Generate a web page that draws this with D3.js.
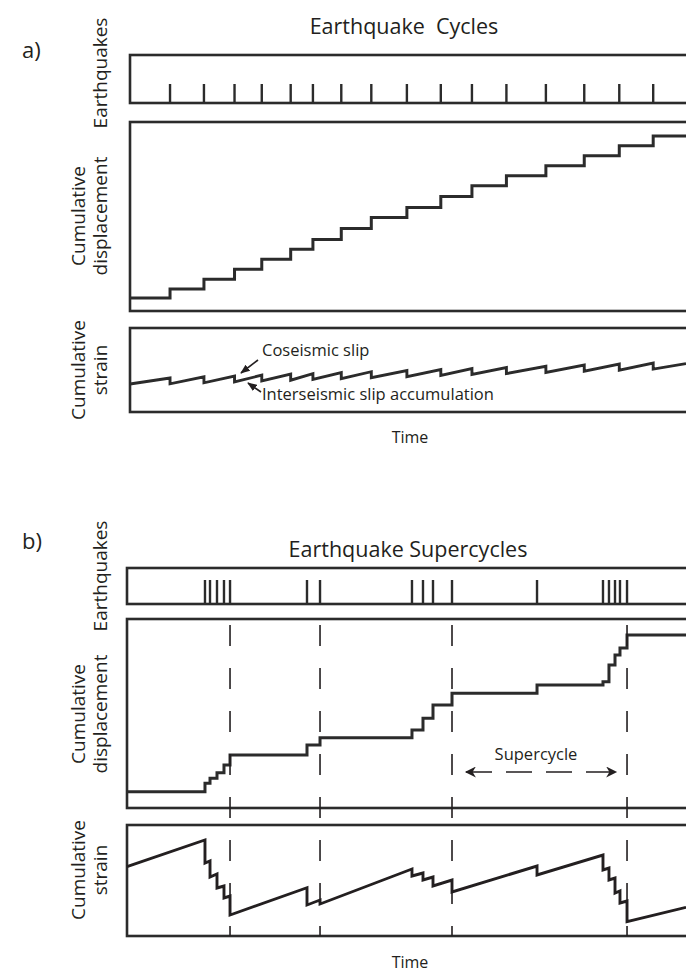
<!DOCTYPE html>
<html>
<head>
<meta charset="utf-8">
<script src="https://cdn.jsdelivr.net/npm/d3@7"></script>
<style>
  html, body { margin: 0; padding: 0; background: #fff; }
  svg { display: block; }
  text { font-family: "Open Sans", "Noto Sans", sans-serif; fill: #231f20; white-space: pre; }
</style>
</head>
<body>
<svg id="chart" width="686" height="975"></svg>
<script>
// ---- a) regular earthquake cycles (time in arbitrary units, 0-100) ----
const quakeTimesA = [7.2, 13.3, 18.8, 23.7, 28.9, 32.9, 38.0, 43.4, 49.8, 55.9, 61.5, 67.7, 74.8, 81.7, 88.0, 94.1];
// cumulative displacement: initial level, then level after each earthquake
const displacementA = [1.3, 2.2, 3.2, 4.2, 5.2, 6.2, 7.2, 8.3, 9.4, 10.4, 11.5, 12.6, 13.6, 14.6, 15.6, 16.6, 17.6];
// cumulative strain: start, value just before each quake, just after, end
const strainStartA = 28;
const strainBeforeA = [34.0, 35.2, 36.0, 36.8, 37.8, 38.4, 39.4, 40.3, 41.5, 42.5, 43.4, 44.5, 45.8, 46.9, 47.9, 48.9];
const strainAfterA  = [28.2, 29.2, 30.1, 31.0, 31.8, 32.6, 33.4, 34.3, 35.4, 36.5, 37.5, 38.4, 39.6, 40.8, 41.9, 42.9];
const strainEndA = 48.4;

// ---- b) earthquake supercycles ----
const quakeTimesB = [13.95, 14.85, 16.1, 17.35, 18.43, 32.2, 34.53, 50.98, 52.95, 54.74, 58.14, 73.35, 85.15, 86.22, 87.3, 88.19, 89.45];
const displacementB = [1.64, 2.48, 2.98, 3.55, 4.32, 5.33, 6.33, 7.07, 7.84, 9.01, 10.35, 11.53, 12.36, 12.69, 14.37, 15.38, 16.08, 17.39];
const strainStartB = 69.3;
const strainBeforeB = [96, 75, 62, 50, 40, 48.3, 36, 67, 63, 59, 56, 70, 81, 68, 58, 45, 35];
const strainAfterB  = [73, 59, 48, 38, 21, 31, 32, 60, 56, 50, 44, 61, 66, 56, 43, 33, 14.3];
const strainEndB = 28.7;
// supercycle boundaries (last event of each cluster)
const supercycleBounds = [18.43, 34.53, 58.14, 89.45];

// ---- text ----
const titleA = "Earthquake  Cycles";
const titleB = "Earthquake Supercycles";
const panelTags = ["a)", "b)"];
const rowLabels = [["Earthquakes"], ["Cumulative", "displacement"], ["Cumulative", "strain"]];
const timeLabel = "Time";
const coseismicLabel = "Coseismic slip";
const interseismicLabel = "Interseismic slip accumulation";
const supercycleLabel = "Supercycle";

const INK = "#2b2b2b";
const svg = d3.select("#chart");

const defs = svg.append("defs");
defs.append("marker").attr("id", "arrowSmall")
  .attr("viewBox", "0 0 10 10").attr("refX", 9).attr("refY", 5)
  .attr("markerWidth", 6).attr("markerHeight", 6).attr("orient", "auto")
  .append("path").attr("d", "M0,1 L10,5 L0,9 Z").attr("fill", "#231f20");
defs.append("marker").attr("id", "arrowBig")
  .attr("viewBox", "0 0 10 10").attr("refX", 9).attr("refY", 5)
  .attr("markerWidth", 12).attr("markerHeight", 11).attr("orient", "auto-start-reverse")
  .attr("markerUnits", "userSpaceOnUse")
  .append("path").attr("d", "M0,0 L10,5 L0,10 L3,5 Z").attr("fill", "#231f20");

function drawFigure(cfg) {
  const g = svg.append("g");
  const x = d3.scaleLinear().domain([0, 100]).range([cfg.left, 686]);
  const right = 700;

  // panel tag and title
  g.append("text").attr("x", 22).attr("y", cfg.tagY).attr("font-size", 22).text(cfg.tag);
  g.append("text").attr("x", cfg.titleX).attr("y", cfg.titleY).attr("text-anchor", "middle")
    .attr("font-size", 21.5).text(cfg.title);

  // frames
  const frames = [cfg.eq, cfg.disp, cfg.strain];
  frames.forEach((f, i) => {
    g.append("rect").attr("x", cfg.left).attr("y", f[0])
      .attr("width", right - cfg.left).attr("height", f[1] - f[0])
      .attr("fill", "none").attr("stroke", INK).attr("stroke-width", 2.6);
    const cy = cfg.labelY[i];
    const lines = rowLabels[i];
    const t = g.append("text").attr("transform", `translate(0,${cy}) rotate(-90)`)
      .attr("text-anchor", "middle").attr("font-size", 19);
    lines.forEach((s, k) => {
      t.append("tspan").attr("x", 0)
        .attr("y", lines.length === 1 ? 107 : (k === 0 ? 85 : 107)).text(s);
    });
  });

  // earthquake events
  g.append("g").selectAll("line").data(cfg.quakes).join("line")
    .attr("x1", d => x(d)).attr("x2", d => x(d))
    .attr("y1", cfg.eq[1] - cfg.tickLen).attr("y2", cfg.eq[1])
    .attr("stroke", INK).attr("stroke-width", 2.4);

  // cumulative displacement staircase
  const yD = d3.scaleLinear().domain([0, 19]).range([cfg.disp[1], cfg.disp[0]]);
  const stepPts = [[0, cfg.displacement[0]]]
    .concat(cfg.quakes.map((q, i) => [q, cfg.displacement[i + 1]]))
    .concat([[100, cfg.displacement[cfg.displacement.length - 1]]]);
  g.append("path").datum(stepPts)
    .attr("d", d3.line().x(d => x(d[0])).y(d => yD(d[1])).curve(d3.curveStepAfter))
    .attr("fill", "none").attr("stroke", INK).attr("stroke-width", 3);

  // cumulative strain sawtooth
  const yS = d3.scaleLinear().domain([0, cfg.strainMax]).range([cfg.strain[1], cfg.strain[0]]);
  const sawPts = [[0, cfg.strainStart]];
  cfg.quakes.forEach((q, i) => { sawPts.push([q, cfg.before[i]]); sawPts.push([q, cfg.after[i]]); });
  sawPts.push([100, cfg.strainEnd]);
  g.append("path").datum(sawPts)
    .attr("d", d3.line().x(d => x(d[0])).y(d => yS(d[1])))
    .attr("fill", "none").attr("stroke", cfg.strainColor).attr("stroke-width", 2.9)
    .attr("stroke-linejoin", "miter");

  // time label
  g.append("text").attr("x", 410).attr("y", cfg.timeY).attr("text-anchor", "middle")
    .attr("font-size", 16).text(timeLabel);

  return { g, x, yD, yS };
}

// ---- figure a ----
const A = drawFigure({
  tag: panelTags[0], tagY: 58, title: titleA, titleX: 404, titleY: 34, left: 130,
  eq: [55, 103], disp: [122, 311], strain: [328, 412], tickLen: 19,
  labelY: [73, 216, 370],
  quakes: quakeTimesA, displacement: displacementA,
  strainMax: 84, strainStart: strainStartA, before: strainBeforeA, after: strainAfterA,
  strainEnd: strainEndA, strainColor: INK, timeY: 443
});
// annotations on the strain panel
A.g.append("text").attr("x", 262).attr("y", 356).attr("font-size", 16.5).text(coseismicLabel);
A.g.append("line").attr("x1", 258).attr("y1", 360).attr("x2", 241).attr("y2", 373)
  .attr("stroke", "#231f20").attr("stroke-width", 1.6).attr("marker-end", "url(#arrowSmall)");
A.g.append("text").attr("x", 262).attr("y", 400).attr("font-size", 16.5).text(interseismicLabel);
A.g.append("line").attr("x1", 261).attr("y1", 392).attr("x2", 248).attr("y2", 383)
  .attr("stroke", "#231f20").attr("stroke-width", 1.6).attr("marker-end", "url(#arrowSmall)");

// ---- figure b ----
const B = drawFigure({
  tag: panelTags[1], tagY: 549, title: titleB, titleX: 408, titleY: 557, left: 127,
  eq: [568, 604], disp: [619, 808], strain: [825, 936], tickLen: 24,
  labelY: [576, 714, 870],
  quakes: quakeTimesB, displacement: displacementB,
  strainMax: 111, strainStart: strainStartB, before: strainBeforeB, after: strainAfterB,
  strainEnd: strainEndB, strainColor: "#231f20", timeY: 968
});
// supercycle boundaries
B.g.append("g").selectAll("line").data(supercycleBounds).join("line")
  .attr("x1", d => B.x(d)).attr("x2", d => B.x(d))
  .attr("y1", 625).attr("y2", 936)
  .attr("stroke", "#231f20").attr("stroke-width", 1.6).attr("stroke-dasharray", "21,22");
// supercycle span arrow
B.g.append("text").attr("x", 536).attr("y", 760).attr("text-anchor", "middle")
  .attr("font-size", 16.5).text(supercycleLabel);
B.g.append("line")
  .attr("x1", B.x(supercycleBounds[2]) + 14).attr("x2", B.x(supercycleBounds[3]) - 11)
  .attr("y1", 772).attr("y2", 772)
  .attr("stroke", "#231f20").attr("stroke-width", 1.6).attr("stroke-dasharray", "26,14")
  .attr("marker-start", "url(#arrowBig)").attr("marker-end", "url(#arrowBig)");
</script>
</body>
</html>
